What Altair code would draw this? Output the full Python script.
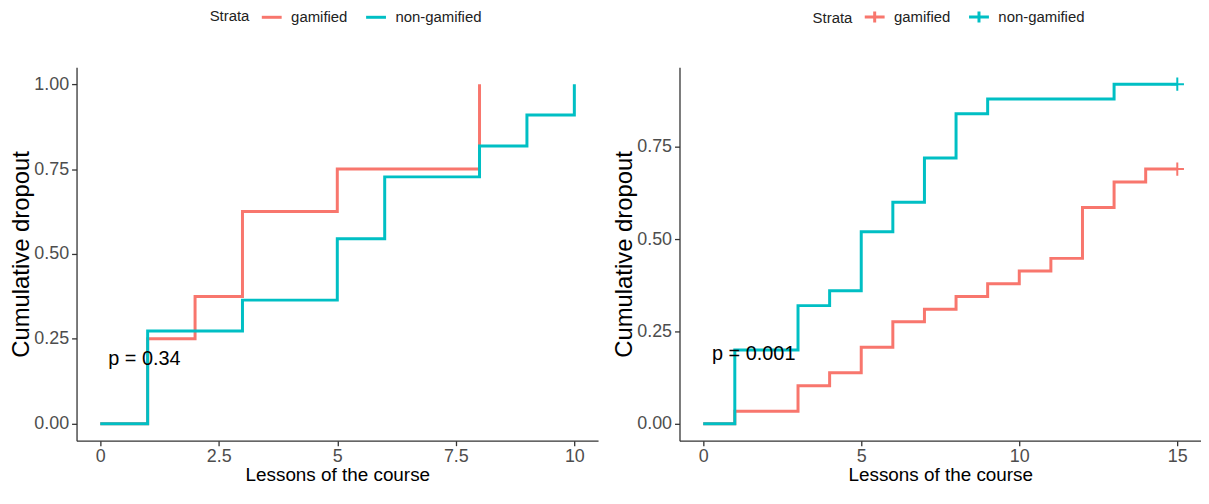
import altair as alt
import pandas as pd

# ---- data ----
strata = ["gamified", "non-gamified"]

left_time_g = [0, 1, 2, 3, 5, 8]
left_cum_g = [0.0, 0.25, 0.375, 0.625, 0.75, 1.0]
left_time_n = [0, 1, 3, 5, 6, 8, 9, 10]
left_cum_n = [0.0, 0.273, 0.364, 0.545, 0.727, 0.818, 0.909, 1.0]

right_time_g = [0, 1, 3, 4, 5, 6, 7, 8, 9, 10, 11, 12, 13, 14, 15]
right_cum_g = [0.0, 0.034, 0.103, 0.138, 0.207, 0.276, 0.310, 0.345, 0.379,
               0.414, 0.448, 0.586, 0.655, 0.690, 0.690]
right_time_n = [0, 1, 3, 4, 5, 6, 7, 8, 9, 13, 15]
right_cum_n = [0.0, 0.20, 0.32, 0.36, 0.52, 0.60, 0.72, 0.84, 0.88, 0.92, 0.92]

right_censor_time = [15, 15]
right_censor_cum = [0.690, 0.92]

left_pval = "p = 0.34"
right_pval = "p = 0.001"
left_pval_pos = (0.17, 0.19)
right_pval_pos = (0.28, 0.19)

left_xticks = [0, 2.5, 5, 7.5, 10]
right_xticks = [0, 5, 10, 15]
left_yticks = [0, 0.25, 0.5, 0.75, 1.0]
right_yticks = [0, 0.25, 0.5, 0.75]

COLORS = ["#F8766D", "#00BFC4"]
SANS = "Liberation Sans, Arial, sans-serif"


def make_df(tg, cg, tn, cn):
    rows = [{"time": t, "cum": c, "Strata": strata[0]} for t, c in zip(tg, cg)]
    rows += [{"time": t, "cum": c, "Strata": strata[1]} for t, c in zip(tn, cn)]
    return pd.DataFrame(rows)


left_df = make_df(left_time_g, left_cum_g, left_time_n, left_cum_n)
right_df = make_df(right_time_g, right_cum_g, right_time_n, right_cum_n)
right_cens = pd.DataFrame({"time": right_censor_time, "cum": right_censor_cum,
                           "Strata": strata})


def panel(df, xdom, xticks, ydom, yticks, symbol, ptext, ppos, cens=None):
    legend = alt.Legend(
        orient="none", legendX=134, legendY=-62, direction="horizontal",
        titleOrient="left", title="Strata", titleFont=SANS, titleFontSize=15,
        titleFontWeight="normal", titleColor="#222", titlePadding=10,
        titleBaseline="middle", padding=0,
        labelFont=SANS, labelFontSize=15, labelColor="#222",
        symbolType=symbol, symbolSize=400, symbolStrokeWidth=3,
        labelOffset=8, columnPadding=12,
    )
    color = alt.Color("Strata:N", scale=alt.Scale(domain=strata, range=COLORS),
                      legend=legend)
    x = alt.X("time:Q", scale=alt.Scale(domain=xdom, nice=False, zero=False),
              axis=alt.Axis(values=xticks, labelExpr="toString(datum.value)",
                            title="Lessons of the course", labelPadding=2,
                            titleFont=SANS, titleFontSize=19, titlePadding=0))
    y = alt.Y("cum:Q", scale=alt.Scale(domain=ydom, nice=False, zero=False),
              axis=alt.Axis(values=yticks, format=".2f", title="Cumulative dropout",
                            titleFont=SANS, titleFontSize=24, titlePadding=0))
    lines = alt.Chart(df).mark_line(interpolate="step-after", strokeWidth=3).encode(
        x=x, y=y, color=color)
    layers = [lines]
    if cens is not None:
        pts = alt.Chart(cens).mark_point(
            shape="M-1,0H1M0,-1V1", size=180, filled=False, strokeWidth=2, opacity=1
        ).encode(x="time:Q", y="cum:Q",
                 color=alt.Color("Strata:N", scale=alt.Scale(domain=strata, range=COLORS),
                                 legend=None))
        layers.append(pts)
    txt = alt.Chart(pd.DataFrame({"time": [ppos[0]], "cum": [ppos[1]], "label": [ptext]})
                    ).mark_text(align="left", baseline="middle", font=SANS,
                                fontSize=20, color="black").encode(
        x="time:Q", y="cum:Q", text="label:N")
    layers.append(txt)
    return alt.layer(*layers).properties(width=525, height=376)


left = panel(left_df, [-0.5, 10.5], left_xticks, [-0.05, 1.05], left_yticks,
             "stroke", left_pval, left_pval_pos)
right = panel(right_df, [-0.75, 15.75], right_xticks, [-0.046, 0.966], right_yticks,
              "M-1,0H1M0,-0.55V0.55", right_pval, right_pval_pos, cens=right_cens)

chart = alt.hconcat(left, right, spacing=14).resolve_scale(
    color="independent", x="independent", y="independent"
).properties(
    padding={"left": 1, "top": -4, "right": 0, "bottom": 0}
).configure_view(stroke=None).configure_axis(
    grid=False, domainColor="#333", domainWidth=1.3, tickColor="#333", tickSize=5,
    tickWidth=1.3, labelColor="#4d4d4d", labelFont=SANS, labelFontSize=18,
    labelPadding=3, titleColor="black", titleFontWeight="normal",
)

chart.save("out.html", embed_options={"renderer": "svg", "actions": False})
